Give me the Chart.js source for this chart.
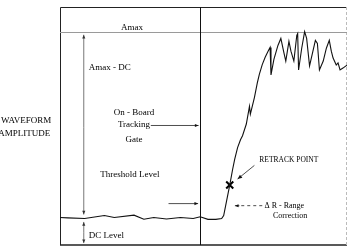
<!DOCTYPE html>
<html>
<head>
<meta charset="utf-8">
<script src="https://cdn.jsdelivr.net/npm/chart.js@4.4.1/dist/chart.umd.min.js"></script>
<style>
  html, body { margin: 0; padding: 0; background: #fff; }
  #wrap { width: 354px; height: 252px; }
</style>
</head>
<body>
<div id="wrap"><canvas id="chart" width="354" height="252"></canvas></div>
<script>
// range bins (0..128) and normalised waveform amplitude (Amax = 1)
const bins = [0, 3.5, 11, 19.8, 24.2, 33, 37.4, 41.8, 47.5, 53.7, 59.4, 62.5, 66, 69.5, 72.1, 73,
  74.3, 75.7, 77, 77.9, 79.2, 80.5, 81.4, 83.1, 84.5, 84.9, 86.7, 88, 88.9, 90.2, 91.5, 92.8,
  93.7, 94.1, 95.4, 97.2, 98.5, 99.9, 100.7, 102.1, 103, 104.3, 105.6, 106, 106.4, 107.8, 109.1,
  110, 111.3, 112.6, 113.9, 114.8, 115.7, 117.4, 118.8, 120.1, 121, 121.8, 123.2, 124, 124.9, 126.2, 128];
const amplitude = [0.129, 0.127, 0.124, 0.138, 0.129, 0.140, 0.121, 0.129, 0.122, 0.129, 0.124, 0.132,
  0.120, 0.120, 0.124, 0.138, 0.207, 0.281, 0.355, 0.401, 0.456, 0.493, 0.512, 0.567, 0.650, 0.613,
  0.691, 0.760, 0.800, 0.845, 0.880, 0.908, 0.926, 0.797, 0.870, 0.935, 0.968, 0.899, 0.862, 0.954,
  0.908, 0.862, 0.982, 0.991, 0.820, 0.922, 1.0, 0.968, 0.839, 0.899, 0.959, 0.945, 0.820, 0.862,
  0.922, 0.959, 0.908, 0.876, 0.843, 0.853, 0.820, 0.829, 0.843];
const gateBin = 62.5;
const amaxLevel = 1.0;
const dcLevel = 0.124;
const retrackBin = 75.7;
const retrackAmp = 0.281;

const serif = '"Liberation Serif", "DejaVu Serif", serif';

function arrow(ctx, x1, y1, x2, y2, head) {
    ctx.beginPath();
    ctx.moveTo(x1, y1);
    ctx.lineTo(x2, y2);
    ctx.stroke();
    const a = Math.atan2(y2 - y1, x2 - x1);
    ctx.beginPath();
    ctx.moveTo(x2, y2);
    ctx.lineTo(x2 - head * Math.cos(a - 0.4), y2 - head * Math.sin(a - 0.4));
    ctx.lineTo(x2 - head * Math.cos(a + 0.4), y2 - head * Math.sin(a + 0.4));
    ctx.closePath();
    ctx.fill();
}

const overlay = {
    id: 'overlay',
    beforeDatasetsDraw(chart) {
        const { ctx, chartArea: a, scales: { x, y } } = chart;
        ctx.save();
        // frame
        ctx.strokeStyle = '#222';
        ctx.lineWidth = 1;
        ctx.beginPath();
        ctx.moveTo(a.right, a.top + 0.5); ctx.lineTo(a.left + 0.5, a.top + 0.5);
        ctx.lineTo(a.left + 0.5, a.bottom);
        ctx.stroke();
        ctx.lineWidth = 1.6;
        ctx.beginPath();
        ctx.moveTo(a.left, a.bottom); ctx.lineTo(a.right, a.bottom);
        ctx.stroke();
        ctx.strokeStyle = '#bbb';
        ctx.lineWidth = 1;
        ctx.setLineDash([3, 2]);
        ctx.beginPath();
        ctx.moveTo(a.right - 0.5, a.top); ctx.lineTo(a.right - 0.5, a.bottom);
        ctx.stroke();
        ctx.setLineDash([]);
        // Amax line
        ctx.strokeStyle = '#9a9a9a';
        ctx.lineWidth = 1.2;
        const ya = Math.round(y.getPixelForValue(amaxLevel)) + 0.5;
        ctx.beginPath();
        ctx.moveTo(a.left, ya); ctx.lineTo(a.right, ya);
        ctx.stroke();
        // on-board tracking gate
        ctx.strokeStyle = '#111';
        ctx.lineWidth = 1;
        const xg = Math.round(x.getPixelForValue(gateBin)) + 0.5;
        ctx.beginPath();
        ctx.moveTo(xg, a.top); ctx.lineTo(xg, a.bottom);
        ctx.stroke();
        ctx.restore();
    },
    afterDatasetsDraw(chart) {
        const { ctx, scales: { x, y } } = chart;
        const px = v => x.getPixelForValue(v);
        const py = v => y.getPixelForValue(v);
        ctx.save();
        ctx.fillStyle = '#000';
        ctx.strokeStyle = '#333';
        ctx.lineWidth = 0.8;
        ctx.textBaseline = 'middle';

        const text = (s, bx, amp, align, size, weight) => {
            ctx.font = (weight || 'normal') + ' ' + size + 'px ' + serif;
            ctx.textAlign = align;
            ctx.fillText(s, px(bx), py(amp));
        };
        text('Amax', 32.1, 1.02, 'center', 9);
        text('Amax - DC', 12.8, 0.83, 'left', 9);
        text('On - Board', 33, 0.622, 'center', 9);
        text('Tracking', 33, 0.562, 'center', 9);
        text('Gate', 33, 0.493, 'center', 9);
        text('Threshold Level', 31.2, 0.332, 'center', 9);
        text('DC Level', 12.8, 0.046, 'left', 9);
        text('RETRACK POINT', 88.9, 0.40, 'left', 7.5);
        text('\u0394 R - Range', 91.2, 0.184, 'left', 8);
        text('Correction', 95, 0.138, 'left', 8);
        text('WAVEFORM', -3.9, 0.585, 'right', 9);
        text('AMPLITUDE', -4.3, 0.521, 'right', 9);

        // Amax - DC arrow (both ends)
        ctx.strokeStyle = '#555';
        ctx.fillStyle = '#333';
        arrow(ctx, px(10.6), py(0.55), px(10.6), py(0.985), 4);
        arrow(ctx, px(10.6), py(0.55), px(10.6), py(0.143), 4);
        // DC level arrow
        arrow(ctx, px(10.6), py(0.06), px(10.6), py(0.108), 4);
        arrow(ctx, px(10.6), py(0.06), px(10.6), py(0.009), 4);
        // tracking gate arrow
        ctx.strokeStyle = '#222';
        ctx.fillStyle = '#111';
        arrow(ctx, px(40.5), py(0.56), px(61.8), py(0.56), 4);
        // threshold arrow
        arrow(ctx, px(48.4), py(0.194), px(61.6), py(0.194), 4);
        // retrack point arrow
        arrow(ctx, px(86.7), py(0.373), px(79.2), py(0.309), 5);
        // range correction arrow (dashed)
        ctx.setLineDash([3, 3]);
        ctx.beginPath();
        ctx.moveTo(px(90.2), py(0.184)); ctx.lineTo(px(80.5), py(0.184));
        ctx.stroke();
        ctx.setLineDash([]);
        arrow(ctx, px(80), py(0.184), px(78), py(0.184), 4);
        ctx.restore();
    }
};

new Chart(document.getElementById('chart'), {
    type: 'scatter',
    data: {
        datasets: [{
            data: bins.map((b, i) => ({ x: b, y: amplitude[i] })),
            showLine: true,
            borderColor: '#111',
            borderWidth: 1.1,
            pointRadius: 0,
            tension: 0
        }, {
            data: [{ x: retrackBin, y: retrackAmp }],
            pointStyle: 'crossRot',
            pointRadius: 5,
            borderWidth: 2,
            borderColor: '#000'
        }]
    },
    options: {
        responsive: false,
        devicePixelRatio: 1,
        animation: false,
        layout: { padding: { left: 60, top: 3, right: 3, bottom: 7 } },
        scales: {
            x: { type: 'linear', min: 0, max: 128, display: false },
            y: { min: 0, max: 242 / 217, display: false }
        },
        plugins: { legend: { display: false }, tooltip: { enabled: false } }
    },
    plugins: [overlay]
});
</script>
</body>
</html>
